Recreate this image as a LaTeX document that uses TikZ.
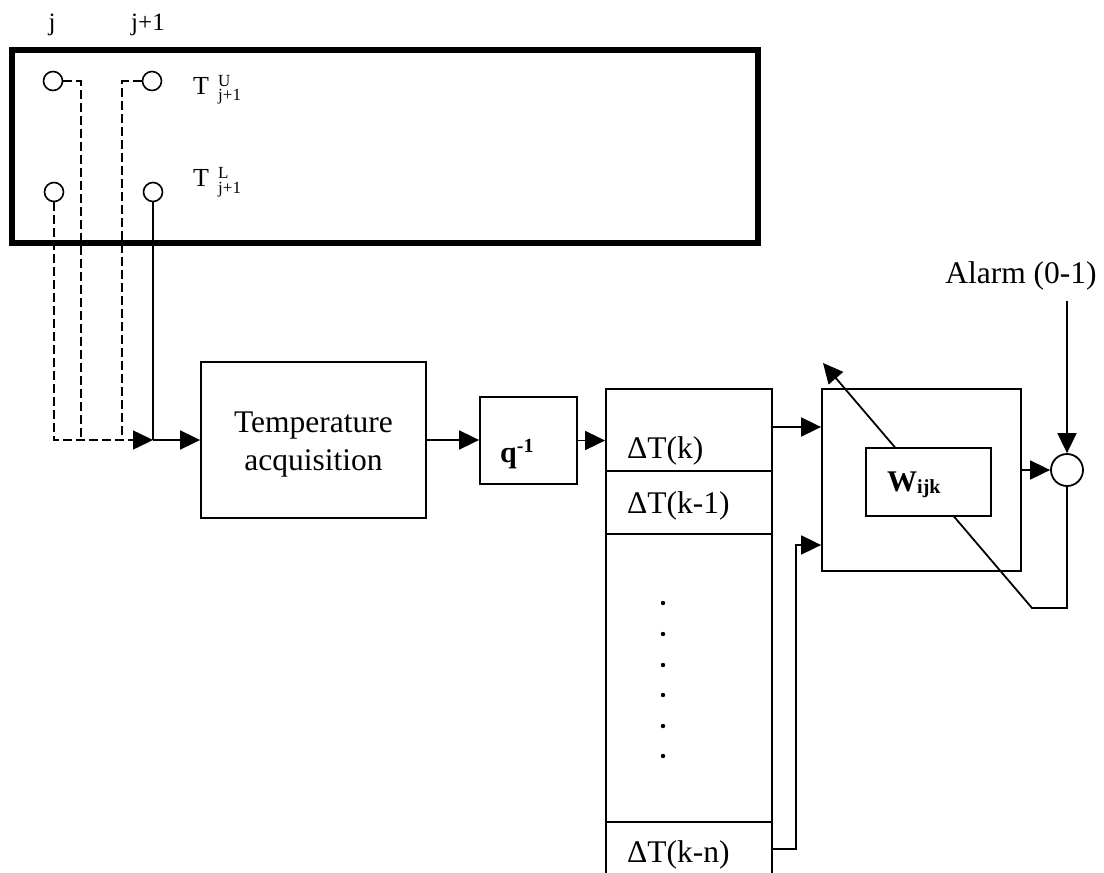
\documentclass[tikz,border=0pt]{standalone}
\usepackage{fontspec}
\setmainfont{Liberation Serif}
\usetikzlibrary{arrows.meta,calc}
\newcommand{\fmain}{\fontsize{31.5}{38}\selectfont}
\newcommand{\fsmall}{\fontsize{25}{25}\selectfont}
\newcommand{\fscript}{\fontsize{17}{17}\selectfont}
\begin{document}
\begin{tikzpicture}[x=1pt,y=-1pt,
  ln/.style={line width=1.8pt},
  arr/.style={line width=1.8pt,-{Triangle[length=20pt,width=19pt]}},
  dashl/.style={line width=1.6pt,dash pattern=on 9pt off 4pt},
  box/.style={draw,line width=1.8pt,inner sep=0pt},
  sensor/.style={draw,circle,line width=1.6pt,minimum size=19pt,inner sep=0pt},
  lbl/.style={inner sep=0pt}]
\useasboundingbox (0,0) rectangle (1104,873);
\clip (0,0) rectangle (1104,873);

% plant (thick box) and sensors
\node[draw,line width=6.5pt,minimum width=746pt,minimum height=193pt,inner sep=0pt] (plant) at (385,146.5) {};
\node[sensor] (s1) at (53,81) {};
\node[sensor] (s2) at (152,81) {};
\node[sensor] (s3) at (54,192) {};
\node[sensor] (s4) at (153,192) {};
\node[lbl,anchor=base] (lj) at (52,30) {\fsmall j};
\node[lbl,anchor=base] (lj1) at (148,30) {\fsmall j+1};
\node[lbl,anchor=base west] (tu) at (193,94) {\fontsize{26}{26}\selectfont T};
\node[lbl,anchor=base west] (tuU) at (218,86) {\fscript U};
\node[lbl,anchor=base west] (tuj) at (218,100) {\fscript j+1};
\node[lbl,anchor=base west] (tl) at (193,186) {\fontsize{26}{26}\selectfont T};
\node[lbl,anchor=base west] (tlL) at (218,178) {\fscript L};
\node[lbl,anchor=base west] (tlj) at (218,193) {\fscript j+1};

% blocks
\node[box,minimum width=225pt,minimum height=156pt] (temp) at (313.5,440) {};
\node[lbl,anchor=base,align=center,font=\fmain] (templbl) at (313.5,470) {Temperature\\acquisition};
\node[box,minimum width=97pt,minimum height=87pt] (q) at (528.5,440.5) {};
\node[lbl,anchor=base west] (qlbl) at (500,462) {\fontsize{30}{30}\selectfont\bfseries q\raisebox{10pt}{\fontsize{20}{20}\selectfont -1}};

\node[box,minimum width=166pt,minimum height=82pt] (c1) at (689,430) {};
\node[box,minimum width=166pt,minimum height=63pt] (c2) at (689,502.5) {};
\node[box,minimum width=166pt,minimum height=288pt] (c3) at (689,678) {};
\node[box,minimum width=166pt,minimum height=54pt] (c4) at (689,849) {};
\node[lbl,anchor=base west] (t1) at (627,458) {\fmain ΔT(k)};
\node[lbl,anchor=base west] (t2) at (627,513) {\fmain ΔT(k-1)};
\node[lbl,anchor=base west] (t3) at (627,862) {\fmain ΔT(k-n)};
\foreach \yy in {603,634,665,695,726,756} \fill (663,\yy) circle (2.2pt);

\node[box,minimum width=199pt,minimum height=182pt] (nn) at (921.5,480) {};
\node[draw,circle,line width=1.8pt,minimum size=32pt,inner sep=0pt] (sum) at (1067,470) {};
\node[lbl,anchor=base] (alarm) at (1021,283) {\fmain Alarm (0-1)};

% sensor wiring
\coordinate (junc) at (s4.south |- temp.west);
\draw[dashl] (s1.east) -- ++(17.5,0) coordinate (d1) -- (d1 |- junc);
\draw[dashl] (s2.west) -- ++(-19.5,0) coordinate (d2) -- (d2 |- junc);
\draw[dashl,-{Triangle[length=20pt,width=19pt]}] (s3.south) |- (junc);
\draw[ln] (s4.south) -- (junc);
\draw[arr] (junc) -- (temp.west);

% signal flow
\draw[arr] (temp.east) -- (temp.east -| q.west);
\draw[arr] (q.east) -- (q.east -| c1.west);
\draw[arr] ([yshift=3pt]c1.east) -- ([yshift=3pt]c1.east -| nn.west);
\coordinate (nnin2) at ([yshift=-65pt]nn.west);
\draw[arr] (c4.east) -- ++(23,0) |- (nnin2);
\draw[arr] (sum.west -| nn.east) -- (sum.west);
\coordinate (alarmstart) at (1067,301);
\draw[arr] (alarmstart) -- (sum.north);

% feedback (weight adaptation)
\coordinate (fb1) at (1032,608);
\coordinate (fbtip) at (823,363);
\draw[arr] (sum.south) |- (fb1) -- (fbtip);

\node[box,fill=white,minimum width=125pt,minimum height=68pt] (w) at (928.5,482) {};
\node[lbl,anchor=base west] (wlbl) at (887,491) {\fontsize{30}{30}\selectfont\bfseries W\raisebox{-2pt}{\fontsize{20}{20}\selectfont ijk}};
\end{tikzpicture}
\end{document}
